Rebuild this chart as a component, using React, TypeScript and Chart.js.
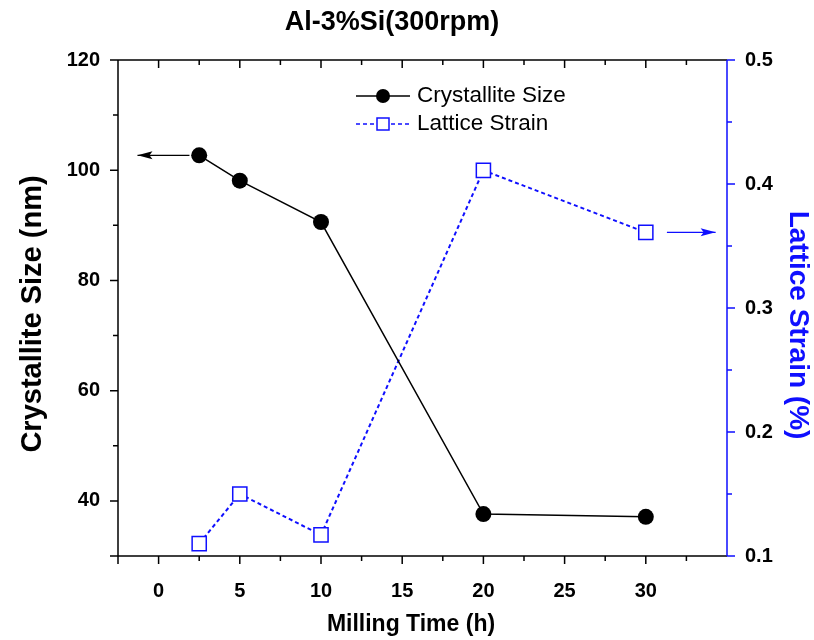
import { useEffect, useRef } from 'react';
import { Chart, registerables } from 'chart.js';
Chart.register(...registerables);

const millingTime = [2.5, 5, 10, 20, 30];
const crystalliteSize = [102.7, 98.1, 90.6, 37.6, 37.1];
const latticeStrain = [0.110, 0.150, 0.117, 0.411, 0.361];
const xTickLabels = [0, 5, 10, 15, 20, 25, 30];
const leftTickLabels = [40, 60, 80, 100, 120];
const rightTickLabels = [0.1, 0.2, 0.3, 0.4, 0.5];

const FONT = '"Liberation Sans", Arial, sans-serif';
const BLUE = '#0f0fff';

const near = (v: number, arr: number[]) => arr.some((a) => Math.abs(a - v) < 1e-6);

const deco = {
  id: 'deco',
  afterDraw(chart: any) {
    const { ctx, chartArea: a, scales } = chart;
    const x = scales.x, yl = scales.y, yr = scales.y1;
    ctx.save();
    ctx.lineCap = 'butt';
    // frame
    ctx.lineWidth = 1.5;
    ctx.strokeStyle = '#000';
    ctx.beginPath();
    ctx.moveTo(a.left, a.top); ctx.lineTo(a.right, a.top);
    ctx.moveTo(a.left, a.top - 0.75); ctx.lineTo(a.left, a.bottom);
    ctx.moveTo(a.left, a.bottom); ctx.lineTo(a.right, a.bottom);
    // x ticks
    x.ticks.forEach((t: any) => {
      if (Math.abs(t.value - x.max) < 1e-6) return;
      const px = x.getPixelForValue(t.value);
      const major = near(t.value, xTickLabels) || Math.abs(t.value - x.min) < 1e-6;
      const len = major ? 8 : 5;
      ctx.moveTo(px, a.bottom); ctx.lineTo(px, a.bottom + len);
      ctx.moveTo(px, a.top); ctx.lineTo(px, a.top + len);
    });
    // left ticks
    yl.ticks.forEach((t: any) => {
      const py = yl.getPixelForValue(t.value);
      const major = near(t.value, leftTickLabels) || Math.abs(t.value - yl.min) < 1e-6;
      const len = major ? 8 : 5;
      ctx.moveTo(a.left, py); ctx.lineTo(a.left - len, py);
    });
    ctx.stroke();
    // right axis
    ctx.strokeStyle = BLUE;
    ctx.beginPath();
    ctx.moveTo(a.right, a.top); ctx.lineTo(a.right, a.bottom);
    yr.ticks.forEach((t: any) => {
      const py = yr.getPixelForValue(t.value);
      const major = near(t.value, rightTickLabels);
      const len = major ? 8 : 5;
      ctx.moveTo(a.right, py); ctx.lineTo(a.right + len, py);
    });
    ctx.stroke();

    // arrows
    const arrow = (x1: number, x2: number, y: number, color: string) => {
      ctx.strokeStyle = color; ctx.fillStyle = color; ctx.lineWidth = 1.2;
      ctx.beginPath(); ctx.moveTo(x1, y); ctx.lineTo(x2, y); ctx.stroke();
      const dir = Math.sign(x2 - x1);
      ctx.beginPath();
      ctx.moveTo(x2, y);
      ctx.lineTo(x2 - dir * 15, y - 4);
      ctx.lineTo(x2 - dir * 12, y);
      ctx.lineTo(x2 - dir * 15, y + 4);
      ctx.closePath(); ctx.fill();
    };
    arrow(x.getPixelForValue(1.9), x.getPixelForValue(-1.3), yl.getPixelForValue(crystalliteSize[0]), '#000');
    arrow(x.getPixelForValue(31.3), x.getPixelForValue(34.3), yr.getPixelForValue(latticeStrain[4]), BLUE);

    // legend
    const lx = a.left + 238, ly1 = a.top + 36, ly2 = a.top + 64;
    ctx.lineWidth = 1.5;
    ctx.strokeStyle = '#000';
    ctx.beginPath(); ctx.moveTo(lx, ly1); ctx.lineTo(lx + 54, ly1); ctx.stroke();
    ctx.fillStyle = '#000';
    ctx.beginPath(); ctx.arc(lx + 27, ly1, 7, 0, Math.PI * 2); ctx.fill();
    ctx.strokeStyle = BLUE;
    ctx.setLineDash([4, 3]);
    ctx.beginPath(); ctx.moveTo(lx, ly2); ctx.lineTo(lx + 54, ly2); ctx.stroke();
    ctx.setLineDash([]);
    ctx.fillStyle = '#fff';
    ctx.fillRect(lx + 21, ly2 - 6, 12, 12);
    ctx.strokeRect(lx + 21, ly2 - 6, 12, 12);
    ctx.fillStyle = '#000';
    ctx.font = `22.5px ${FONT}`;
    ctx.textBaseline = 'middle';
    ctx.textAlign = 'left';
    ctx.fillText('Crystallite Size', lx + 61, ly1);
    ctx.fillText('Lattice Strain', lx + 61, ly2);

    // titles
    ctx.textAlign = 'center';
    ctx.font = `bold 27px ${FONT}`;
    ctx.fillText('Al-3%Si(300rpm)', 392, 23);
    ctx.font = `bold 23px ${FONT}`;
    ctx.fillText('Milling Time (h)', 411, 625);
    ctx.save();
    ctx.translate(33, 314);
    ctx.rotate(-Math.PI / 2);
    ctx.font = `bold 29px ${FONT}`;
    ctx.fillText('Crystallite Size (nm)', 0, 0);
    ctx.restore();
    ctx.save();
    ctx.translate(798, 325);
    ctx.rotate(Math.PI / 2);
    ctx.fillStyle = BLUE;
    ctx.font = `bold 28px ${FONT}`;
    ctx.fillText('Lattice Strain (%)', 0, 0);
    ctx.restore();
    ctx.restore();
  },
};

export default function App() {
  const ref = useRef<HTMLCanvasElement | null>(null);
  useEffect(() => {
    if (!ref.current) return;
    const tickFont = { family: FONT, size: 20, weight: 'bold' as const };
    const chart = new Chart(ref.current, {
      type: 'line',
      data: {
        datasets: [
          {
            label: 'Crystallite Size',
            data: millingTime.map((t, i) => ({ x: t, y: crystalliteSize[i] })),
            yAxisID: 'y',
            borderColor: '#000',
            backgroundColor: '#000',
            borderWidth: 1.5,
            pointRadius: 8,
            pointHoverRadius: 8,
            pointBorderWidth: 0,
            pointBackgroundColor: '#000',
            tension: 0,
          },
          {
            label: 'Lattice Strain',
            data: millingTime.map((t, i) => ({ x: t, y: latticeStrain[i] })),
            yAxisID: 'y1',
            borderColor: BLUE,
            borderWidth: 2,
            borderDash: [4, 3],
            pointStyle: 'rect',
            pointRadius: 10,
            pointHoverRadius: 10,
            pointBorderWidth: 1.5,
            pointBorderColor: BLUE,
            pointBackgroundColor: '#fff',
            tension: 0,
          },
        ],
      },
      plugins: [deco],
      options: {
        responsive: false,
        animation: false,
        layout: { padding: { top: 60, left: 0, right: 0, bottom: 0 } },
        plugins: { legend: { display: false }, title: { display: false }, tooltip: { enabled: false } },
        scales: {
          x: {
            type: 'linear',
            position: 'bottom',
            min: -2.5,
            max: 35,
            grid: { display: false },
            border: { display: false },
            afterFit: (s: any) => { s.height = 84; },
            ticks: {
              stepSize: 2.5,
              autoSkip: false,
              maxRotation: 0,
              padding: 15,
              color: '#000',
              font: tickFont,
              callback: (v: any) => (near(Number(v), xTickLabels) ? String(v) : ''),
            },
          },
          y: {
            type: 'linear',
            position: 'left',
            min: 30,
            max: 120,
            grid: { display: false },
            border: { display: false },
            afterFit: (s: any) => { s.width = 118; },
            ticks: {
              stepSize: 10,
              autoSkip: false,
              padding: 10,
              color: '#000',
              font: tickFont,
              callback: (v: any) => (near(Number(v), leftTickLabels) ? String(v) : ''),
            },
          },
          y1: {
            type: 'linear',
            position: 'right',
            min: 0.1,
            max: 0.5,
            grid: { display: false },
            border: { display: false },
            afterFit: (s: any) => { s.width = 87; },
            ticks: {
              stepSize: 0.05,
              autoSkip: false,
              padding: 10,
              color: '#000',
              font: tickFont,
              callback: (v: any) => (near(Number(v), rightTickLabels) ? Number(v).toFixed(1) : ''),
            },
          },
        },
      },
    });
    return () => chart.destroy();
  }, []);
  return (
    <div style={{ position: 'absolute', left: 0, top: 0, width: 814, height: 640, background: '#fff' }}>
      <canvas ref={ref} width={814} height={640} />
    </div>
  );
}
